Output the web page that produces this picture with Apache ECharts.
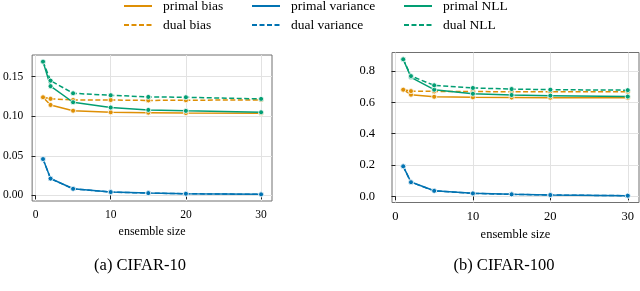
<!DOCTYPE html>
<html><head><meta charset="utf-8">
<script src="https://cdn.jsdelivr.net/npm/echarts@6/dist/echarts.min.js"></script>
<style>html,body{margin:0;padding:0;background:#fff}#c{width:640px;height:291px}</style>
</head><body><div id="c"></div>
<script>
const sizes = [1, 2, 5, 10, 15, 20, 30];
const xTicks = [0, 10, 20, 30];

// CIFAR-10
const primalBias10 = [0.124, 0.1143, 0.107, 0.105, 0.1045, 0.104, 0.1038];
const dualBias10   = [0.124, 0.122, 0.1206, 0.1205, 0.1200, 0.1202, 0.1207];
const primalVar10  = [0.0459, 0.0214, 0.0084, 0.0043, 0.0030, 0.0021, 0.0013];
const dualVar10    = [0.0459, 0.0212, 0.0083, 0.0042, 0.0029, 0.0021, 0.0013];
const primalNLL10  = [0.169, 0.138, 0.1177, 0.111, 0.108, 0.1068, 0.105];
const dualNLL10    = [0.169, 0.145, 0.129, 0.1265, 0.1244, 0.124, 0.1219];
const yTicks10 = [0, 0.05, 0.10, 0.15];

// CIFAR-100
const primalBias100 = [0.681, 0.649, 0.636, 0.632, 0.631, 0.630, 0.629];
const dualBias100   = [0.681, 0.672, 0.670, 0.669, 0.668, 0.668, 0.668];
const primalVar100  = [0.1915, 0.091, 0.036, 0.019, 0.0128, 0.0083, 0.004];
const dualVar100    = [0.1915, 0.090, 0.035, 0.0185, 0.0125, 0.0082, 0.004];
const primalNLL100  = [0.875, 0.760, 0.681, 0.655, 0.647, 0.643, 0.637];
const dualNLL100    = [0.875, 0.768, 0.709, 0.692, 0.685, 0.681, 0.678];
const yTicks100 = [0, 0.2, 0.4, 0.6, 0.8];

const seriesNames = ['primal bias', 'dual bias', 'primal variance', 'dual variance', 'primal NLL', 'dual NLL'];
const captions = ['(a) CIFAR-10', '(b) CIFAR-100'];
const xName = 'ensemble size';

const ORANGE = '#de8f05', BLUE = '#0173b2', GREEN = '#029e73';
const colors = [ORANGE, ORANGE, BLUE, BLUE, GREEN, GREEN];
const FONT = 'Liberation Serif';

function pairs(arr) { return sizes.map((s, i) => [s, arr[i]]); }

const sets = [
  [primalBias10, dualBias10, primalVar10, dualVar10, primalNLL10, dualNLL10],
  [primalBias100, dualBias100, primalVar100, dualVar100, primalNLL100, dualNLL100]
];

function extent(list) {
  let lo = Infinity, hi = -Infinity;
  list.forEach(a => a.forEach(v => { lo = Math.min(lo, v); hi = Math.max(hi, v); }));
  const m = (hi - lo) * 0.05;
  return [lo - m, hi + m];
}

const grids = [
  { left: 31, top: 55, width: 241, height: 146 },
  { left: 392, top: 52.5, width: 247, height: 150 }
];
const yTickSets = [yTicks10, yTicks100];
const yDigits = [2, 1];
const tickFont = [11.5, 12.5];
const yMargin = [9, 17];

const xAxes = [], yAxes = [], series = [];
grids.forEach((g, k) => {
  g.show = true; g.borderColor = '#707070'; g.borderWidth = 1; g.backgroundColor = 'transparent';
  xAxes.push({
    type: 'value', gridIndex: k, min: -0.45, max: 31.45,
    name: xName, nameLocation: 'middle', nameGap: k === 0 ? 24 : 25,
    nameTextStyle: { fontFamily: FONT, fontSize: k === 0 ? 12 : 12.5, color: '#000' },
    axisLine: { show: false },
    axisTick: { show: true, length: 4, customValues: xTicks, lineStyle: { color: '#222', width: 1 } },
    axisLabel: { customValues: xTicks, fontFamily: FONT, fontSize: tickFont[k], color: '#000', margin: 8 },
    splitLine: { show: true, lineStyle: { color: '#e2e2e2', width: 1 } }
  });
  const ext = extent(sets[k]);
  yAxes.push({
    type: 'value', gridIndex: k, min: ext[0], max: ext[1],
    axisLine: { show: false },
    axisTick: { show: true, length: 4, customValues: yTickSets[k], lineStyle: { color: '#222', width: 1 } },
    axisLabel: { customValues: yTickSets[k], fontFamily: FONT, fontSize: tickFont[k], color: '#000', margin: yMargin[k],
      formatter: v => v.toFixed(yDigits[k]) },
    splitLine: { show: true, lineStyle: { color: '#e2e2e2', width: 1 } }
  });
  sets[k].forEach((arr, i) => {
    series.push({
      name: seriesNames[i], type: 'line', xAxisIndex: k, yAxisIndex: k,
      data: pairs(arr), symbol: 'circle', symbolSize: 5, showSymbol: true,
      color: colors[i],
      lineStyle: { color: colors[i], width: 1.5, type: i % 2 === 1 ? [5, 2.5] : 'solid' },
      itemStyle: { color: colors[i], borderColor: '#fff', borderWidth: 0.8 },
      emphasis: { disabled: true }, animation: false, z: 2 + i
    });
  });
});

const legendBase = {
  orient: 'vertical', top: -1, padding: 0, itemWidth: 28, itemHeight: 14, itemGap: 5,
  itemStyle: { opacity: 0 },
  textStyle: { fontFamily: FONT, fontSize: 13.5, color: '#000', padding: [0, 0, 0, 6] },
  selectedMode: false
};
const legends = [
  Object.assign({}, legendBase, { left: 123, data: ['primal bias', 'dual bias'] }),
  Object.assign({}, legendBase, { left: 251, data: ['primal variance', 'dual variance'] }),
  Object.assign({}, legendBase, { left: 403, data: ['primal NLL', 'dual NLL'] })
];

const chart = echarts.init(document.getElementById('c'), null, { renderer: 'canvas' });
chart.setOption({
  animation: false,
  grid: grids, xAxis: xAxes, yAxis: yAxes, series: series, legend: legends,
  graphic: [
    { type: 'text', x: 140, y: 266, style: { text: captions[0], fontFamily: FONT, fontSize: 16.5, fill: '#000', align: 'center', verticalAlign: 'middle' } },
    { type: 'text', x: 504, y: 266, style: { text: captions[1], fontFamily: FONT, fontSize: 16.5, fill: '#000', align: 'center', verticalAlign: 'middle' } }
  ]
});
</script></body></html>
